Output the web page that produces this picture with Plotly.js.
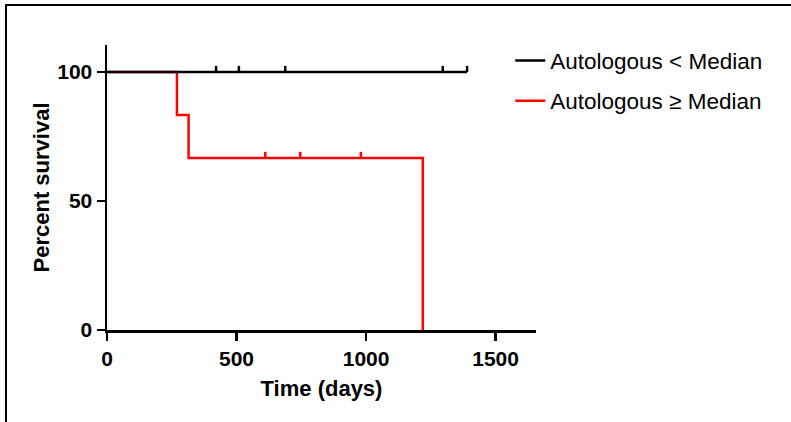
<!DOCTYPE html>
<html>
<head>
<meta charset="utf-8">
<script src="https://cdn.plot.ly/plotly-3.0.1.min.js"></script>
<style>
  html, body { margin: 0; padding: 0; background: #fff; }
  #wrap { position: relative; width: 791px; height: 422px; }
  #chart { width: 791px; height: 422px; }
  #bt { position: absolute; left: 5px; top: 4px; width: 786px; height: 2px; background: #000; }
  #bl { position: absolute; left: 5px; top: 4px; width: 2px; height: 418px; background: #000; }
</style>
</head>
<body>
<div id="wrap">
  <div id="chart"></div>
  <div id="bt"></div>
  <div id="bl"></div>
</div>
<script>
// Group 1: Autologous < Median
const lowTimes = [0, 1390];
const lowSurv = [100, 100];
const lowCensorTimes = [421, 509, 688, 1296, 1390];
const lowCensorSurv = [100, 100, 100, 100, 100];

// Group 2: Autologous >= Median
const highTimes = [0, 270, 315, 1219];
const highSurv = [100, 83.33, 66.67, 0];
const highCensorTimes = [611, 746, 980];
const highCensorSurv = [66.67, 66.67, 66.67];

const seriesNames = ['Autologous < Median', 'Autologous \u2265 Median'];
const xTickVals = [0, 500, 1000, 1500];
const yTickVals = [0, 50, 100];

const censorLen = 2.4; // survival units of the small censor marks

const traces = [
  {
    x: highTimes, y: highSurv, mode: 'lines', line: {shape: 'hv', color: '#ff0000', width: 2.5},
    name: seriesNames[1], legendgroup: 'g2', legendrank: 2
  },
  {
    x: highCensorTimes, y: highCensorSurv, mode: 'markers', marker: {size: 0.1, color: '#ff0000', opacity: 0},
    error_y: {type: 'data', symmetric: false, array: highCensorTimes.map(() => censorLen), arrayminus: highCensorTimes.map(() => 0), width: 0, thickness: 2.5, color: '#ff0000'},
    showlegend: false, legendgroup: 'g2', legendrank: 2, hoverinfo: 'skip'
  },
  {
    x: lowTimes, y: lowSurv, mode: 'lines', line: {shape: 'hv', color: '#000000', width: 2.5},
    name: seriesNames[0], legendgroup: 'g1', legendrank: 1
  },
  {
    x: lowCensorTimes, y: lowCensorSurv, mode: 'markers', marker: {size: 0.1, color: '#000', opacity: 0},
    error_y: {type: 'data', symmetric: false, array: lowCensorTimes.map(() => censorLen), arrayminus: lowCensorTimes.map(() => 0), width: 0, thickness: 2.5, color: '#000'},
    showlegend: false, legendgroup: 'g1', legendrank: 1, hoverinfo: 'skip'
  }
];

const axisFont = {family: 'Liberation Sans, Arial, sans-serif', size: 21, color: '#000', weight: 'bold'};
const titleFont = {family: 'Liberation Sans, Arial, sans-serif', size: 22, color: '#000', weight: 'bold'};

const layout = {
  width: 791, height: 422,
  margin: {l: 107, r: 255, t: 45, b: 92},
  paper_bgcolor: '#fff', plot_bgcolor: '#fff',
  showlegend: true,
  legend: {
    x: 0.94, xanchor: 'left', y: 1.02, yanchor: 'top',
    font: {family: 'Liberation Sans, Arial, sans-serif', size: 22.5, color: '#000'},
    tracegroupgap: 8, bgcolor: 'rgba(0,0,0,0)', traceorder: 'grouped'
  },
  xaxis: {
    range: [0, 1656], tickvals: xTickVals, ticks: 'outside', ticklen: 8, tickwidth: 2.5, tickcolor: '#000',
    showline: true, linecolor: '#000', linewidth: 2.5, showgrid: false, zeroline: false,
    tickfont: axisFont, title: {text: 'Time (days)', font: titleFont, standoff: 12}
  },
  yaxis: {
    range: [0, 110.5], tickvals: yTickVals, ticks: 'outside', ticklen: 8, tickwidth: 2.5, tickcolor: '#000',
    showline: true, linecolor: '#000', linewidth: 2.5, showgrid: false, zeroline: false,
    tickfont: axisFont, title: {text: 'Percent survival', font: titleFont, standoff: 2}
  }
};

Plotly.newPlot('chart', traces, layout, {displayModeBar: false, staticPlot: true});
</script>
</body>
</html>
